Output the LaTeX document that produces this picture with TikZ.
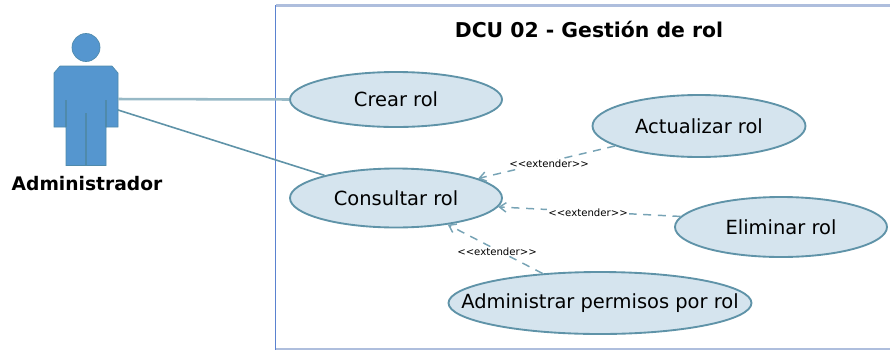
\documentclass[tikz,border=0pt]{standalone}
\usepackage{fontspec}
\setmainfont{DejaVu Sans}
\usetikzlibrary{arrows.meta,shapes.geometric}
\definecolor{edgeblue}{HTML}{5F93A8}
\definecolor{ucfill}{HTML}{D5E4EE}
\definecolor{actorfill}{HTML}{5596CF}
\definecolor{actoredge}{HTML}{4F8AAB}
\definecolor{boxblue}{HTML}{5A82D0}
\definecolor{boxlight}{HTML}{AEBEDD}
\newcommand{\uclabel}[1]{\makebox[0pt][c]{#1}}
\newcommand{\extext}{<{}<extender>{}>}
\tikzset{
 usecase/.style={ellipse,draw=edgeblue,line width=1.4pt,fill=ucfill,inner sep=0pt,text=black,font=\fontsize{14.6}{16}\selectfont},
 assoc/.style={draw=edgeblue,line width=1.2pt},
 ext/.style={draw=edgeblue!85,line width=1.1pt,dash pattern=on 6pt off 5pt,-{Straight Barb[length=5pt,width=7pt]}},
 extlabel/.style={font=\fontsize{7.6}{9}\selectfont,fill=white,inner xsep=1pt,inner ysep=0.5pt,text=black}
}
\begin{document}
\begin{tikzpicture}[x=0.75pt,y=-0.75pt]
\useasboundingbox (0,0) rectangle (890,351);
\draw[boxlight,line width=1.8pt] (890,5.5)--(275.5,5.5);
\draw[boxlight,line width=1.4pt] (275.5,349)--(890,349);
\draw[boxblue,line width=1.2pt] (275.5,5)--(275.5,349.5);
\node[font=\bfseries\fontsize{15.3}{18}\selectfont] (title) at (589,29) {DCU 02 - Gestión de rol};
% actor
\fill[actorfill,draw=actoredge,line width=0.5pt] (86,47.5) circle (14);
\path[fill=actorfill,draw=actoredge,line width=0.5pt] (60,66)--(112,66)--(118,73)--(118,127)--(106,127)--(106,165.5)--(66,165.5)--(66,127)--(54,127)--(54,73)--cycle;
\draw[actoredge,line width=1.1pt] (66,100)--(66,127) (106,100)--(106,127) (86,113)--(86,165.5);
\coordinate (actorA) at (118,99);
\coordinate (actorB) at (118,110);
\node[font=\bfseries\fontsize{14}{16}\selectfont] (actorlabel) at (87,184) {Administrador};
% use cases
\node[usecase,minimum width=212*0.75pt,minimum height=55*0.75pt] (crear) at (396,99.5) {\uclabel{Crear rol}};
\node[usecase,minimum width=212*0.75pt,minimum height=59*0.75pt] (consultar) at (396,198) {\uclabel{Consultar rol}};
\node[usecase,minimum width=213*0.75pt,minimum height=62*0.75pt] (actualizar) at (699,126) {\uclabel{Actualizar rol}};
\node[usecase,minimum width=212*0.75pt,minimum height=60*0.75pt] (eliminar) at (781,227) {\uclabel{Eliminar rol}};
\node[usecase,minimum width=303*0.75pt,minimum height=62*0.75pt] (admin) at (600,303) {\uclabel{Administrar permisos por rol}};
% connectors
\draw[assoc,line width=1.9pt,draw=edgeblue!65] (actorA) -- (crear.west);
\draw[assoc] (actorB) -- (consultar);
\draw[ext] (actualizar) -- (consultar);
\draw[ext] (eliminar.174) -- (consultar.-5);
\draw[ext] (admin) -- (consultar);
\node[extlabel] (l1) at (549,164) {\extext};
\node[extlabel] (l2) at (588,213) {\extext};
\node[extlabel] (l3) at (497,251.5) {\extext};
\end{tikzpicture}
\end{document}
